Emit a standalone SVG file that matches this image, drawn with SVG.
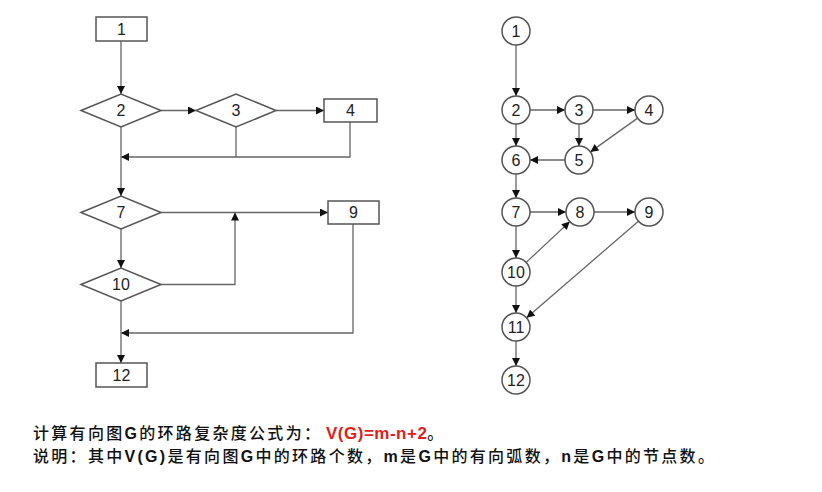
<svg xmlns="http://www.w3.org/2000/svg" width="822" height="492" viewBox="0 0 822 492">
<style>
.n{fill:#fff;stroke:#555;stroke-width:1.5}
.t{font-family:"Liberation Sans",Arial,sans-serif;font-size:16px;fill:#222;text-anchor:middle;dominant-baseline:central}
.e{stroke:#666;stroke-width:1.3;fill:none}
.a{marker-end:url(#ah)}
.c{font-family:"Liberation Sans","Noto Sans CJK SC",sans-serif;font-size:16px;fill:#111;letter-spacing:2.3px;font-weight:500}
.b{font-weight:bold}
</style>
<defs>
<marker id="ah" viewBox="0 0 10 10" refX="10" refY="5" markerWidth="9" markerHeight="8" markerUnits="userSpaceOnUse" orient="auto">
<path d="M0,0 L10,5 L0,10 z" fill="#111"/>
</marker>
</defs>
<rect width="822" height="492" fill="#fff"/>
<g id="connectors">
<line class="e a" x1="121" y1="41" x2="121" y2="94"/>
<line class="e a" x1="161" y1="110.5" x2="196" y2="110.5"/>
<line class="e a" x1="276" y1="110.5" x2="324" y2="110.5"/>
<polyline class="e a" points="350,122 350,157 121,157"/>
<line class="e" x1="236" y1="127" x2="236" y2="157"/>
<line class="e a" x1="121" y1="127" x2="121" y2="196"/>
<line class="e a" x1="161" y1="212.5" x2="328" y2="212.5"/>
<line class="e a" x1="121" y1="229" x2="121" y2="268"/>
<polyline class="e a" points="161,284.5 235,284.5 235,212.5"/>
<polyline class="e a" points="353,224 353,333 121,333"/>
<line class="e a" x1="121" y1="301" x2="121" y2="363"/>
<line class="e a" x1="516" y1="45" x2="516" y2="96"/>
<line class="e a" x1="530" y1="110" x2="565" y2="110"/>
<line class="e a" x1="593" y1="110" x2="635" y2="110"/>
<line class="e a" x1="516" y1="124" x2="516" y2="146"/>
<line class="e a" x1="579" y1="124" x2="579" y2="146"/>
<line class="e a" x1="637.6" y1="118.1" x2="590.4" y2="151.9"/>
<line class="e a" x1="565" y1="160" x2="530" y2="160"/>
<line class="e a" x1="516" y1="174" x2="516" y2="198"/>
<line class="e a" x1="530" y1="212" x2="566" y2="212"/>
<line class="e a" x1="594" y1="212" x2="635" y2="212"/>
<line class="e a" x1="516" y1="226" x2="516" y2="258"/>
<line class="e a" x1="526.2" y1="262.4" x2="569.8" y2="221.6"/>
<line class="e a" x1="516" y1="286" x2="516" y2="313"/>
<line class="e a" x1="638.4" y1="221.2" x2="526.6" y2="317.8"/>
<line class="e a" x1="516" y1="341" x2="516" y2="366"/>
</g>
<g id="f1"><rect class="n" x="96" y="17" width="51" height="24"/><text class="t" x="121.5" y="29">1</text></g>
<g id="f2"><polygon class="n" points="81,110.5 121,94 161,110.5 121,127"/><text class="t" x="121" y="110.5">2</text></g>
<g id="f3"><polygon class="n" points="196,110.5 236,94 276,110.5 236,127"/><text class="t" x="236" y="110.5">3</text></g>
<g id="f4"><rect class="n" x="324" y="99" width="53" height="23"/><text class="t" x="350.5" y="110.5">4</text></g>
<g id="f7"><polygon class="n" points="81,212.5 121,196 161,212.5 121,229"/><text class="t" x="121" y="212.5">7</text></g>
<g id="f9"><rect class="n" x="328" y="201" width="51" height="23"/><text class="t" x="353.5" y="212.5">9</text></g>
<g id="f10"><polygon class="n" points="81,284.5 121,268 161,284.5 121,301"/><text class="t" x="121" y="284.5">10</text></g>
<g id="f12"><rect class="n" x="96" y="363" width="51" height="24"/><text class="t" x="121.5" y="375">12</text></g>
<g id="g1"><circle class="n" cx="516" cy="31" r="14"/><text class="t" x="516" y="31">1</text></g>
<g id="g2"><circle class="n" cx="516" cy="110" r="14"/><text class="t" x="516" y="110">2</text></g>
<g id="g3"><circle class="n" cx="579" cy="110" r="14"/><text class="t" x="579" y="110">3</text></g>
<g id="g4"><circle class="n" cx="649" cy="110" r="14"/><text class="t" x="649" y="110">4</text></g>
<g id="g5"><circle class="n" cx="579" cy="160" r="14"/><text class="t" x="579" y="160">5</text></g>
<g id="g6"><circle class="n" cx="516" cy="160" r="14"/><text class="t" x="516" y="160">6</text></g>
<g id="g7"><circle class="n" cx="516" cy="212" r="14"/><text class="t" x="516" y="212">7</text></g>
<g id="g8"><circle class="n" cx="580" cy="212" r="14"/><text class="t" x="580" y="212">8</text></g>
<g id="g9"><circle class="n" cx="649" cy="212" r="14"/><text class="t" x="649" y="212">9</text></g>
<g id="g10"><circle class="n" cx="516" cy="272" r="14"/><text class="t" x="516" y="272">10</text></g>
<g id="g11"><circle class="n" cx="516" cy="327" r="14"/><text class="t" x="516" y="327">11</text></g>
<g id="g12"><circle class="n" cx="516" cy="380" r="14"/><text class="t" x="516" y="380">12</text></g>
<g id="caption">
<text class="c" x="33" y="439">计算有向图<tspan class="b">G</tspan>的环路复杂度公式为：<tspan class="b" x="326" fill="#e0201b" style="letter-spacing:0.5px;font-size:17px">V(G)=m-n+2</tspan>。</text>
<text class="c" x="33" y="462">说明：其中<tspan class="b">V(G)</tspan>是有向图<tspan class="b">G</tspan>中的环路个数，<tspan class="b">m</tspan>是<tspan class="b">G</tspan>中的有向弧数，<tspan class="b">n</tspan>是<tspan class="b">G</tspan>中的节点数。</text>
</g>
</svg>
